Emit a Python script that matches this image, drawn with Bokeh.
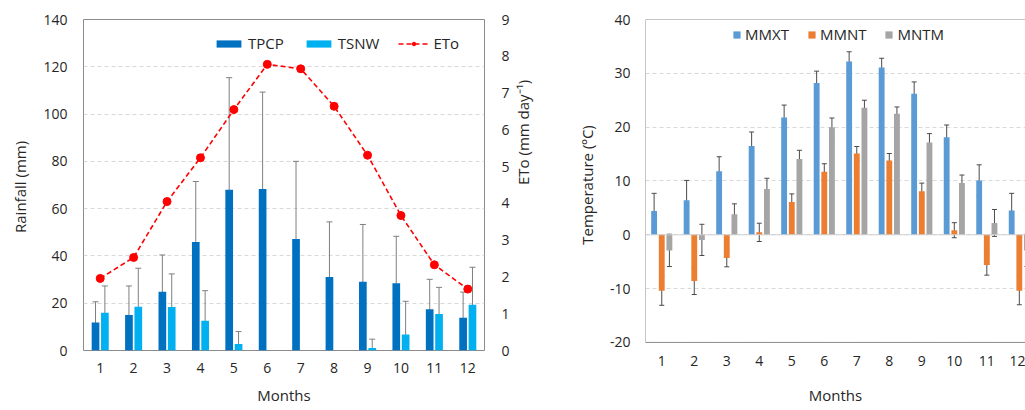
import math
from bokeh.plotting import figure
from bokeh.models import (ColumnDataSource, Range1d, LinearAxis, FixedTicker,
                          Whisker, TeeHead, Span, Legend, LegendItem)
from bokeh.transform import dodge
from bokeh.layouts import row
from bokeh.embed import file_html
from bokeh.resources import INLINE

# ---------------- data ----------------
months = list(range(1, 13))
month_labels = {m: str(m) for m in months}

tpcp = [11.8, 15.0, 24.9, 45.9, 68.0, 68.3, 47.2, 31.1, 29.1, 28.4, 17.4, 13.8]
tpcp_sd = [8.8, 12.3, 15.5, 25.6, 47.4, 41.0, 32.8, 23.3, 24.2, 19.9, 12.7, 10.9]
tsnw = [16.0, 18.5, 18.4, 12.6, 2.7, 0, 0, 0, 1.1, 6.8, 15.4, 19.3]
tsnw_sd = [11.3, 16.3, 14.0, 12.7, 5.3, 0, 0, 0, 3.7, 14.0, 11.3, 15.9]
eto = [1.96, 2.53, 4.05, 5.24, 6.55, 7.78, 7.66, 6.64, 5.31, 3.67, 2.33, 1.67]

mmxt = [4.4, 6.4, 11.8, 16.5, 21.8, 28.2, 32.2, 31.1, 26.2, 18.1, 10.1, 4.5]
mmxt_sd = [3.3, 3.7, 2.7, 2.6, 2.3, 2.2, 1.8, 1.7, 2.2, 2.3, 2.9, 3.2]
mmnt = [-10.4, -8.6, -4.3, 0.45, 6.1, 11.7, 15.1, 13.8, 8.1, 0.85, -5.6, -10.4]
mmnt_sd = [2.7, 2.5, 1.65, 1.7, 1.5, 1.5, 1.3, 1.3, 1.5, 1.4, 1.9, 2.6]
mntm = [-2.9, -0.95, 3.8, 8.5, 14.1, 20.0, 23.6, 22.5, 17.15, 9.6, 2.2, -2.9]
mntm_sd = [3.0, 2.9, 1.95, 2.0, 1.6, 1.7, 1.4, 1.25, 1.65, 1.5, 2.5, 3.0]

rain_ticks = [0, 20, 40, 60, 80, 100, 120, 140]
eto_ticks = list(range(0, 10))
temp_ticks = [-20, -10, 0, 10, 20, 30, 40]

FONT = "Open Sans"
TXT = "#262626"
FRAME = "#8c8c8c"


def err_source(vals, sds):
    xs, up, lo = [], [], []
    for m, v, s in zip(months, vals, sds):
        if s > 0:
            xs.append(m)
            up.append(v + s)
            lo.append(v - s)
    return ColumnDataSource(dict(month=xs, up=up, lo=lo))


def add_err(p, vals, sds, off, color, size=6):
    src = err_source(vals, sds)
    w = Whisker(source=src, base=dodge("month", off), upper="up", lower="lo",
                dimension="height", line_color=color, line_width=1,
                upper_head=TeeHead(size=size, line_color=color, line_width=1),
                lower_head=TeeHead(size=size, line_color=color, line_width=1))
    p.add_layout(w)


def style_axes(p):
    for ax in p.axis:
        ax.major_label_text_font = FONT
        ax.major_label_text_font_size = "14px"
        ax.major_label_text_color = TXT
        ax.axis_label_text_font = FONT
        ax.axis_label_text_font_size = "15px"
        ax.axis_label_text_font_style = "normal"
        ax.axis_label_text_color = TXT
        ax.major_tick_line_color = None
        ax.minor_tick_line_color = None
        ax.major_tick_out = 0
        ax.major_tick_in = 0
        ax.minor_tick_out = 0
        ax.minor_tick_in = 0
        ax.axis_line_color = None
    p.xgrid.grid_line_color = None
    p.ygrid.grid_line_color = "#d9d9d9"
    p.ygrid.grid_line_dash = "4 3"


# ---------------- left chart ----------------
src_l = ColumnDataSource(dict(month=months, tpcp=tpcp, tsnw=tsnw, eto=eto))

p1 = figure(width=548, height=410, output_backend="svg", toolbar_location=None,
            x_range=Range1d(0.5, 12.5), y_range=Range1d(0, 140),
            min_border_left=83, min_border_right=64, min_border_top=19,
            min_border_bottom=60, background_fill_color="white",
            border_fill_color="white")
p1.extra_y_ranges = {"eto": Range1d(0, 9)}
p1.outline_line_color = FRAME
p1.outline_line_width = 1

r_tpcp = p1.vbar(x=dodge("month", -0.14), top="tpcp", width=0.23, source=src_l,
                 fill_color="#0070C0", line_color=None)
r_tsnw = p1.vbar(x=dodge("month", 0.14), top="tsnw", width=0.23, source=src_l,
                 fill_color="#00B0F0", line_color=None)
add_err(p1, tpcp, tpcp_sd, -0.14, "#7f7f7f")
add_err(p1, tsnw, tsnw_sd, 0.14, "#7f7f7f")

r_eto_l = p1.line(x="month", y="eto", source=src_l, y_range_name="eto",
                  line_color="#FF0000", line_width=1.6, line_dash="5 3")
r_eto_s = p1.scatter(x="month", y="eto", source=src_l, y_range_name="eto",
                     size=8, fill_color="#FF0000", line_color="#FF0000")

ax_r = LinearAxis(y_range_name="eto", ticker=FixedTicker(ticks=eto_ticks),
                  axis_label="ETo  (mm day\u207b\u00b9)")
p1.add_layout(ax_r, "right")

p1.xaxis.ticker = FixedTicker(ticks=months)
p1.xaxis.major_label_overrides = month_labels
p1.xaxis.axis_label = "Months"
p1.yaxis[0].ticker = FixedTicker(ticks=rain_ticks)
p1.yaxis[0].axis_label = "Rainfall  (mm)"
style_axes(p1)
p1.yaxis[0].major_label_standoff = 16
p1.yaxis[0].axis_label_standoff = 10
ax_r.major_label_standoff = 17
ax_r.axis_label_standoff = 10
ax_r.axis_label_orientation = math.pi / 2
p1.xaxis.major_label_standoff = 12
p1.xaxis.axis_label_standoff = 9

leg1 = Legend(items=[LegendItem(label="TPCP", renderers=[r_tpcp]),
                     LegendItem(label="TSNW", renderers=[r_tsnw]),
                     LegendItem(label="ETo", renderers=[r_eto_l, r_eto_s])],
              orientation="horizontal", location=(130, 297),
              glyph_width=31, glyph_height=9, label_standoff=4, spacing=19,
              padding=0, margin=0, border_line_color=None,
              background_fill_alpha=0, label_text_font=FONT,
              label_text_font_size="15px", label_text_color=TXT)
p1.add_layout(leg1)

# ---------------- right chart ----------------
src_r = ColumnDataSource(dict(month=months, mmxt=mmxt, mmnt=mmnt, mntm=mntm))

x2 = Range1d(0.5, 12.19)
# frames of the two plots are aligned by the row, so the temperature scale
# gets a little headroom below -20 to keep -20 where the reference has it
y2 = Range1d(-21.5, 40)
p2 = figure(width=477, height=410, output_backend="svg", toolbar_location=None,
            x_range=x2, y_range=y2,
            min_border_left=97, min_border_right=0, min_border_top=19,
            min_border_bottom=60, background_fill_color="white",
            border_fill_color="white")
p2.outline_line_color = None

p2.add_layout(Span(location=0, dimension="width", line_color="#d0d0d0", line_width=1))

r_mx = p2.vbar(x=dodge("month", -0.235), top="mmxt", bottom=0, width=0.18,
               source=src_r, fill_color="#5B9BD5", line_color=None)
r_mn = p2.vbar(x=dodge("month", 0.0), top="mmnt", bottom=0, width=0.18,
               source=src_r, fill_color="#ED7D31", line_color=None)
r_mt = p2.vbar(x=dodge("month", 0.235), top="mntm", bottom=0, width=0.18,
               source=src_r, fill_color="#A5A5A5", line_color=None)
add_err(p2, mmxt, mmxt_sd, -0.235, "#4a4a4a", 5)
add_err(p2, mmnt, mmnt_sd, 0.0, "#4a4a4a", 5)
add_err(p2, mntm, mntm_sd, 0.235, "#4a4a4a", 5)

# plot-area border (left, top, bottom) at the ends of the temperature scale
p2.add_layout(Span(location=temp_ticks[-1], dimension="width", line_color=FRAME, line_width=1))
p2.add_layout(Span(location=temp_ticks[0], dimension="width", line_color=FRAME, line_width=1))
p2.segment(x0=x2.start, y0=temp_ticks[0], x1=x2.start, y1=temp_ticks[-1],
           line_color=FRAME, line_width=1)

p2.xaxis.ticker = FixedTicker(ticks=months)
p2.xaxis.major_label_overrides = month_labels
p2.xaxis.axis_label = "Months"
p2.yaxis.ticker = FixedTicker(ticks=temp_ticks)
p2.yaxis.major_label_overrides = {t: str(t) for t in temp_ticks}
p2.yaxis.axis_label = "Temperature (\u00baC)"
style_axes(p2)
p2.yaxis.major_label_standoff = 15
p2.yaxis.axis_label_standoff = 10
p2.xaxis.major_label_standoff = 5
p2.xaxis.axis_label_standoff = 16

leg2 = Legend(items=[LegendItem(label="MMXT", renderers=[r_mx]),
                     LegendItem(label="MMNT", renderers=[r_mn]),
                     LegendItem(label="MNTM", renderers=[r_mt])],
              orientation="horizontal", location=(87, 306),
              glyph_width=9, glyph_height=9, label_standoff=4, spacing=18,
              padding=0, margin=0, border_line_color=None,
              background_fill_alpha=0, label_text_font=FONT,
              label_text_font_size="15px", label_text_color=TXT)
p2.add_layout(leg2)

layout = row(p1, p2)
open("out.html", "w").write(file_html(layout, INLINE))
